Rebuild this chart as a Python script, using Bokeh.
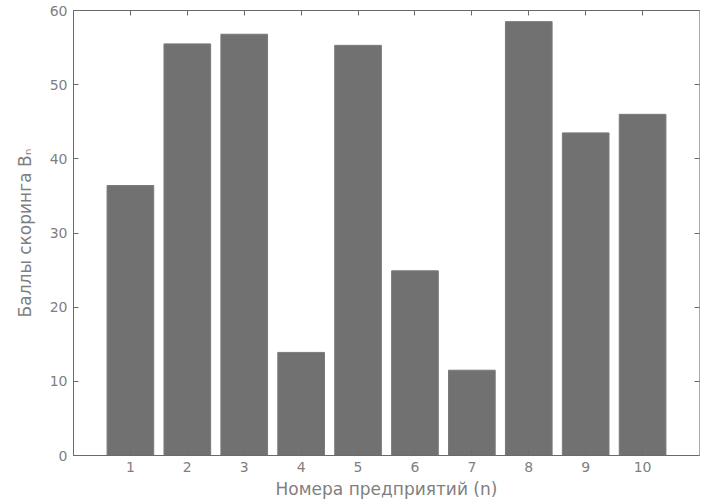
from bokeh.plotting import figure
from bokeh.models import LinearAxis, FixedTicker, Range1d, ColumnDataSource
from bokeh.embed import file_html
from bokeh.resources import INLINE

enterprises = [1, 2, 3, 4, 5, 6, 7, 8, 9, 10]
scores = [36.4, 55.5, 56.8, 13.9, 55.3, 24.9, 11.5, 58.5, 43.5, 46.0]
y_ticks = [0, 10, 20, 30, 40, 50, 60]

FONT = "DejaVu Sans"
AX = "#6a6a6a"
TXT = "#7f7f7f"

p = figure(width=703, height=502, output_backend="svg", toolbar_location=None,
           x_range=Range1d(0, 11), y_range=Range1d(0, 60),
           min_border_left=73, min_border_right=4, min_border_top=10, min_border_bottom=47)

src = ColumnDataSource(dict(x=enterprises, top=scores))
p.vbar(x="x", top="top", width=0.82, bottom=0, source=src,
       fill_color="#717171", line_color="#7a7a7a", line_width=1)

p.grid.visible = False
p.outline_line_color = "#8a8a8a"

p.xaxis.ticker = FixedTicker(ticks=enterprises)
p.yaxis.ticker = FixedTicker(ticks=y_ticks)
for ax in (p.xaxis[0], p.yaxis[0]):
    ax.major_tick_in = 5
    ax.major_tick_out = 0
    ax.minor_tick_line_color = None
    ax.axis_line_color = AX
    ax.major_tick_line_color = AX
    ax.major_label_text_color = TXT
    ax.major_label_text_font = FONT
    ax.major_label_text_font_size = "14px"
    ax.axis_label_text_color = TXT
    ax.axis_label_text_font = FONT
    ax.axis_label_text_font_size = "17px"
    ax.axis_label_text_font_style = "normal"

p.xaxis.axis_label = "Номера предприятий (n)"
p.yaxis.axis_label = "Баллы скоринга Bₙ"
p.xaxis.major_label_standoff = 6
p.yaxis.major_label_standoff = 6
p.xaxis.axis_label_standoff = 4
p.yaxis.axis_label_standoff = 12

top_ax = LinearAxis(ticker=FixedTicker(ticks=enterprises), major_tick_in=5, major_tick_out=0,
                    minor_tick_line_color=None, axis_line_color=AX, major_tick_line_color=AX,
                    major_label_text_font_size="0px", major_label_text_color=None,
                    major_label_standoff=0)
right_ax = LinearAxis(ticker=FixedTicker(ticks=y_ticks), major_tick_in=5, major_tick_out=0,
                      minor_tick_line_color=None, axis_line_color="#aaaaaa", major_tick_line_color=AX,
                      major_label_text_font_size="0px", major_label_text_color=None,
                      major_label_standoff=0)
p.add_layout(top_ax, "above")
p.add_layout(right_ax, "right")

open("out.html", "w").write(file_html(p, INLINE))
